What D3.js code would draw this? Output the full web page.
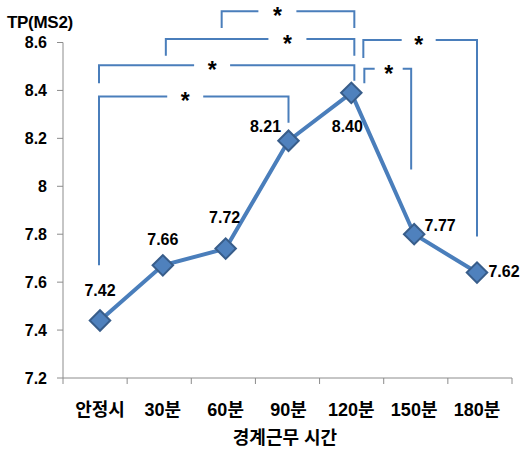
<!DOCTYPE html>
<html>
<head>
<meta charset="utf-8">
<script src="https://cdn.jsdelivr.net/npm/d3@7"></script>
<style>
  body { margin: 0; background: #fff; }
  text { font-family: "Liberation Sans", Arial, "Noto Sans CJK KR", sans-serif; font-weight: bold; fill: #000; }
</style>
</head>
<body>
<div id="chart"></div>
<script>
// chart data
var categories = ["안정시", "30분", "60분", "90분", "120분", "150분", "180분"];
var tpValues = [7.44, 7.67, 7.74, 8.19, 8.39, 7.80, 7.64];   // plotted positions
var tpLabels = ["7.42", "7.66", "7.72", "8.21", "8.40", "7.77", "7.62"];
var yTicks = [7.2, 7.4, 7.6, 7.8, 8, 8.2, 8.4, 8.6];
var yTickLabels = ["7.2", "7.4", "7.6", "7.8", "8", "8.2", "8.4", "8.6"];
var sigPairs = [["60분", "120분"], ["30분", "120분"], ["안정시", "120분"],
                ["안정시", "90분"], ["120분", "180분"], ["120분", "150분"]];
var sigMarks = ["*", "*", "*", "*", "*", "*"];

// bracket layout (levels in data units, x nudges in px)
var bracketTop = [8.73, 8.615, 8.505, 8.375, 8.61, 8.49];
var bracketLegA = [8.66, 8.545, 8.43, 7.67, 8.535, 8.43];
var bracketLegB = [8.66, 8.545, 8.44, 8.265, 7.79, 8.07];
var bracketDxA = [-4, 3, -1, -1, 12, 13];
var bracketDxB = [3, 3, 3, 0, 0, -3];
var starPos = [0.42, 0.645, 0.443, 0.455, 0.487, 0.52];
var starGap = [19, 19, 18, 18, 17, 14];

// data label offsets
var labelDx = [0, 0, -1, -23, -4, 26, 27];
var labelDy = [-30, -26, -31, -15, 33, -9, -1];

function init() {
    var w = 522, h = 454;
    var svg = d3.select("#chart").append("svg").attr("width", w).attr("height", h);

    var plotLeft = 63, plotRight = 512, plotTop = 42.5, plotBottom = 378;

    var yScale = d3.scaleLinear().domain([7.2, 8.6]).range([plotBottom, plotTop]);
    var xBand = d3.scaleBand().domain(categories).range([plotLeft, plotRight]);
    var xScale = d3.scalePoint().domain(categories).range([100, 477]);

    var axisColor = "#8c8c8c";
    var blue = "#4a7ebb";

    // y axis
    svg.append("line").attr("x1", plotLeft).attr("x2", plotLeft)
       .attr("y1", plotTop).attr("y2", plotBottom).attr("stroke", axisColor);
    svg.selectAll(".ytick").data(yTicks).enter().append("line")
       .attr("x1", plotLeft - 6).attr("x2", plotLeft)
       .attr("y1", function(d) { return yScale(d); })
       .attr("y2", function(d) { return yScale(d); })
       .attr("stroke", axisColor);
    svg.selectAll(".ylab").data(yTicks).enter().append("text")
       .attr("x", 47)
       .attr("y", function(d) { return yScale(d); })
       .attr("dy", "0.36em")
       .attr("text-anchor", "end")
       .style("font-size", "16px")
       .text(function(d, i) { return yTickLabels[i]; });

    // x axis
    svg.append("line").attr("x1", plotLeft).attr("x2", plotRight)
       .attr("y1", plotBottom).attr("y2", plotBottom).attr("stroke", axisColor);
    var xTickPos = categories.map(function(c) { return xBand(c); }).concat([plotRight]);
    svg.selectAll(".xtick").data(xTickPos).enter().append("line")
       .attr("x1", function(d) { return d; }).attr("x2", function(d) { return d; })
       .attr("y1", plotBottom).attr("y2", plotBottom + 6)
       .attr("stroke", axisColor);
    svg.selectAll(".xlab").data(categories).enter().append("text")
       .attr("x", function(d) { return xScale(d); })
       .attr("y", 410)
       .attr("dy", "0.36em")
       .attr("text-anchor", "middle")
       .style("font-size", "18px")
       .text(function(d) { return d; });

    // titles
    svg.append("text").attr("x", 7).attr("y", 22).attr("dy", "0.36em")
       .style("font-size", "17px").style("letter-spacing", "-0.3px").text("TP(MS2)");
    svg.append("text").attr("x", 285).attr("y", 438).attr("dy", "0.36em")
       .attr("text-anchor", "middle").style("font-size", "18px").text("경계근무 시간");

    // significance brackets
    sigPairs.forEach(function(p, i) {
        var xa = xScale(p[0]) + bracketDxA[i];
        var xb = xScale(p[1]) + bracketDxB[i];
        var yt = yScale(bracketTop[i]);
        var sx = xa + (xb - xa) * starPos[i];
        var g = svg.append("g").attr("fill", "none").attr("stroke", blue).attr("stroke-width", 2);
        g.append("path").attr("d", "M" + xa + "," + yScale(bracketLegA[i]) + "V" + yt + "H" + (sx - starGap[i]));
        g.append("path").attr("d", "M" + (sx + starGap[i]) + "," + yt + "H" + xb + "V" + yScale(bracketLegB[i]));
        svg.append("text").attr("x", sx).attr("y", yt + 13)
           .attr("text-anchor", "middle").style("font-size", "23px").text(sigMarks[i]);
    });

    // line
    var line = d3.line()
        .x(function(d, i) { return xScale(categories[i]); })
        .y(function(d) { return yScale(d); });
    svg.append("path").datum(tpValues)
       .attr("d", line).attr("fill", "none")
       .attr("stroke", blue).attr("stroke-width", 4);

    // markers
    var diamond = d3.symbol().type(d3.symbolSquare).size(210);
    svg.selectAll(".mark").data(tpValues).enter().append("path")
       .attr("d", diamond)
       .attr("transform", function(d, i) {
           return "translate(" + xScale(categories[i]) + "," + yScale(d) + ") rotate(45)";
       })
       .attr("fill", "#4f81bd").attr("stroke", "#385d8a").attr("stroke-width", 2);

    // data labels
    svg.selectAll(".dlab").data(tpValues).enter().append("text")
       .attr("x", function(d, i) { return xScale(categories[i]) + labelDx[i]; })
       .attr("y", function(d, i) { return yScale(d) + labelDy[i]; })
       .attr("dy", "0.36em")
       .attr("text-anchor", "middle")
       .style("font-size", "16px")
       .text(function(d, i) { return tpLabels[i]; });
}

window.onload = init;
</script>
</body>
</html>
